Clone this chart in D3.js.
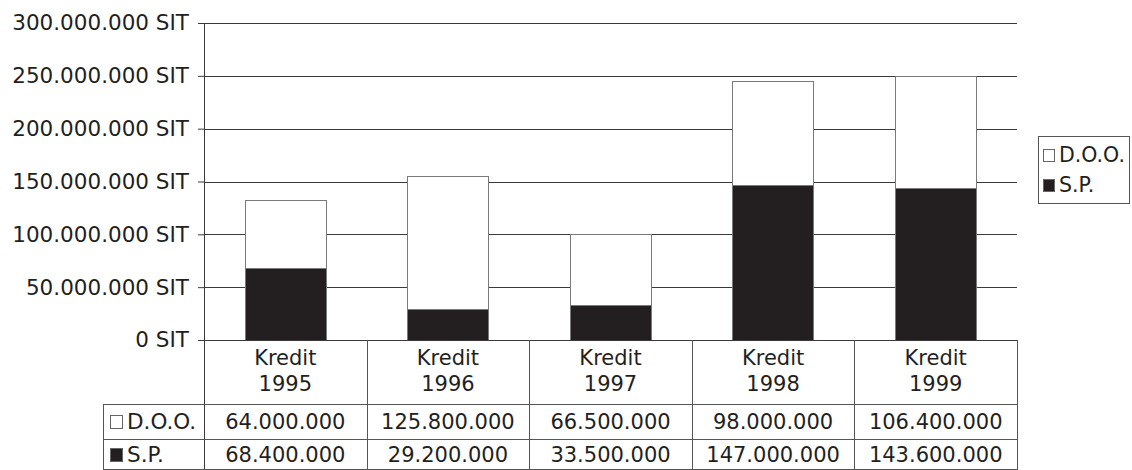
<!DOCTYPE html>
<html><head><meta charset="utf-8">
<script src="https://cdn.jsdelivr.net/npm/d3@7"></script>
<style>
html,body{margin:0;padding:0;background:#fff;}
svg{display:block;}
text{font-family:"DejaVu Sans",Verdana,sans-serif;fill:#231f20;}
</style></head>
<body>
<svg id="chart" width="1132" height="470"></svg>
<script>
const categories = ["1995", "1996", "1997", "1998", "1999"];
const categoryPrefix = "Kredit";
const seriesNames = ["S.P.", "D.O.O."];
const spValues = [68400000, 29200000, 33500000, 147000000, 143600000];
const dooValues = [64000000, 125800000, 66500000, 98000000, 106400000];
const yTicks = [0, 50000000, 100000000, 150000000, 200000000, 250000000, 300000000];

(function () {
const fmt = v => d3.format(",")(v).replace(/,/g, ".");

const svg = d3.select("#chart");
const pLeft = 204, pRight = 1017, pTop = 23, pBottom = 340;
const rowTop1 = 404, rowTop2 = 439, rowBottom = 469, tableLeft = 103;

const x = d3.scaleBand().domain(categories).range([pLeft, pRight]).paddingInner(0).paddingOuter(0);
const y = d3.scaleLinear().domain([0, 300000000]).range([pBottom, pTop]);

// ticks + labels
const yAxis = d3.axisLeft(y).tickValues(yTicks).tickSize(6).tickPadding(9)
  .tickFormat(d => fmt(d) + " SIT");
const ga = svg.append("g").attr("transform", `translate(${pLeft},0)`).call(yAxis);
ga.select(".domain").remove();
ga.selectAll("line").attr("stroke", "#3a3a3a");
ga.selectAll("text").attr("font-size", 21.5).attr("font-family", "DejaVu Sans").attr("fill", "#231f20");

// gridlines
svg.append("g").selectAll("line").data(yTicks).join("line")
  .attr("x1", pLeft).attr("x2", pRight)
  .attr("y1", d => Math.round(y(d)) + 0.5).attr("y2", d => Math.round(y(d)) + 0.5)
  .attr("stroke", "#3a3a3a").attr("stroke-width", 1);

// stacked bars
const stackData = categories.map((c, i) => ({cat: c, "S.P.": spValues[i], "D.O.O.": dooValues[i]}));
const stacked = d3.stack().keys(seriesNames)(stackData);
const colors = {"S.P.": "#231f20", "D.O.O.": "#ffffff"};
const bw = x.bandwidth() * 0.5;
stacked.forEach(layer => {
  svg.append("g").selectAll("rect").data(layer).join("rect")
    .attr("x", d => Math.round(x(d.data.cat) + (x.bandwidth() - bw) / 2) + 0.5)
    .attr("width", Math.round(bw))
    .attr("y", d => Math.round(y(d[1])) + 0.5)
    .attr("height", d => Math.round(y(d[0])) - Math.round(y(d[1])))
    .attr("fill", colors[layer.key])
    .attr("stroke", "#7a7a7a").attr("stroke-width", 1);
});

// left axis line
svg.append("line").attr("x1", pLeft + 0.5).attr("x2", pLeft + 0.5).attr("y1", pTop).attr("y2", rowBottom)
  .attr("stroke", "#3a3a3a");

// table lines
const tl = svg.append("g").attr("stroke", "#555").attr("stroke-width", 1);
tl.append("line").attr("x1", 198).attr("x2", pRight + 0.5).attr("y1", pBottom + 0.5).attr("y2", pBottom + 0.5).attr("stroke", "#3a3a3a");
[rowTop1, rowTop2, rowBottom].forEach(yy =>
  tl.append("line").attr("x1", tableLeft + 0.5).attr("x2", pRight + 0.5).attr("y1", yy + 0.5).attr("y2", yy + 0.5));
tl.append("line").attr("x1", tableLeft + 0.5).attr("x2", tableLeft + 0.5).attr("y1", rowTop1).attr("y2", rowBottom + 1);
categories.forEach(c => {
  const xx = Math.round(x(c) + x.bandwidth()) + 0.5;
  tl.append("line").attr("x1", xx).attr("x2", xx).attr("y1", pBottom).attr("y2", rowBottom + 1);
});

// header text
const hdr = svg.append("g").selectAll("text").data(categories).join("text")
  .attr("text-anchor", "middle").attr("font-size", 21);
hdr.append("tspan").attr("x", d => x(d) + x.bandwidth() / 2).attr("y", 365).text(categoryPrefix);
hdr.append("tspan").attr("x", d => x(d) + x.bandwidth() / 2).attr("y", 391).text(d => d);

// value rows
const rows = [{name: "D.O.O.", vals: dooValues, y: 429, fill: "#fff"}, {name: "S.P.", vals: spValues, y: 462, fill: "#231f20"}];
rows.forEach(r => {
  svg.append("g").selectAll("text").data(categories).join("text")
    .attr("x", d => x(d) + x.bandwidth() / 2).attr("y", r.y)
    .attr("text-anchor", "middle").attr("font-size", 21)
    .text((d, i) => fmt(r.vals[i]));
  svg.append("rect").attr("x", 110.5).attr("y", r.y - 13.5).attr("width", 12).attr("height", 13)
    .attr("fill", r.fill).attr("stroke", "#666");
  svg.append("text").attr("x", 127).attr("y", r.y).attr("font-size", 21.5).text(r.name);
});

// legend
const lg = svg.append("g");
lg.append("rect").attr("x", 1038.5).attr("y", 136.5).attr("width", 91).attr("height", 67)
  .attr("fill", "#fff").attr("stroke", "#555");
[{name: "D.O.O.", fill: "#fff", y: 162}, {name: "S.P.", fill: "#231f20", y: 192}].forEach(it => {
  lg.append("rect").attr("x", 1043.5).attr("y", it.y - 12.5).attr("width", 11).attr("height", 12)
    .attr("fill", it.fill).attr("stroke", "#666");
  lg.append("text").attr("x", 1059).attr("y", it.y).attr("font-family", "Liberation Sans, Arial, sans-serif")
    .attr("font-size", 20.5).text(it.name);
});
})();
</script>
</body></html>
